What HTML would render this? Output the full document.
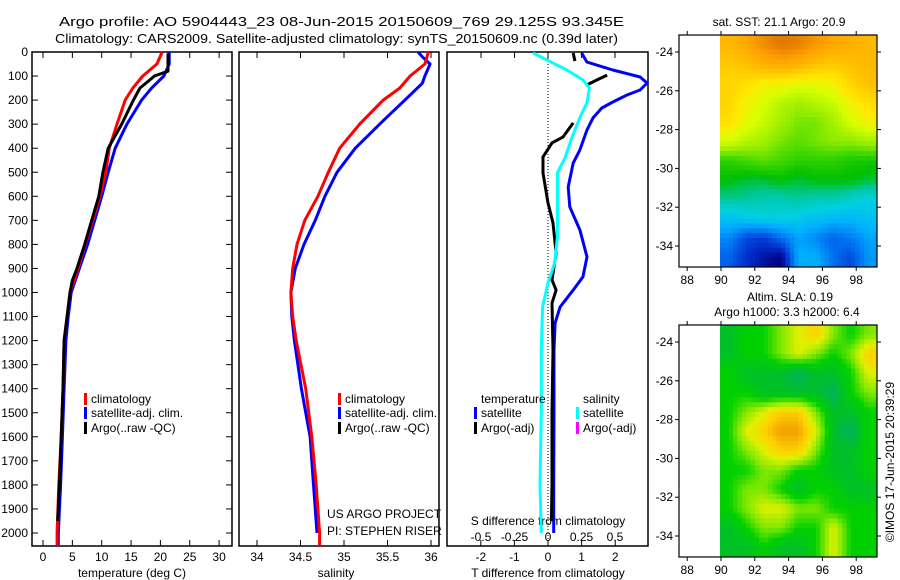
<!DOCTYPE html>
<html><head><meta charset="utf-8"><style>
html,body{margin:0;padding:0;background:#fff;}
svg{display:block;font-family:"Liberation Sans",sans-serif;}
</style></head><body>
<svg id="fig" width="900" height="580" viewBox="0 0 900 580" xmlns="http://www.w3.org/2000/svg">
<text x="59" y="26" font-size="13" textLength="565" lengthAdjust="spacingAndGlyphs">Argo profile: AO 5904443_23 08-Jun-2015 20150609_769 29.125S 93.345E</text>
<text x="55" y="43" font-size="13" textLength="563" lengthAdjust="spacingAndGlyphs">Climatology: CARS2009. Satellite-adjusted climatology: synTS_20150609.nc (0.39d later)</text>
<g id="plots"></g>
</svg>
<script>
// ---------- data ----------
const depthTicks=[0,100,200,300,400,500,600,700,800,900,1000,1100,1200,1300,1400,1500,1600,1700,1800,1900,2000];
const tempTicks=[0,5,10,15,20,25,30];
const salTicks=[34,34.5,35,35.5,36];
const salTickLabels=["34","34.5","35","35.5","36"];
const tdiffTicks=[-2,-1,0,1,2];
const sdiffTicks=[-0.5,-0.25,0,0.25,0.5];
const sdiffTickLabels=["-0.5","-0.25","0","0.25","0.5"];

const climDepth=[0,50,100,150,200,300,400,500,600,700,800,900,1000,1100,1200,1400,1600,1800,2000,2050];
const climTemp=[20.3,19.4,17.0,15.3,14.0,12.6,11.3,10.7,9.7,8.5,7.2,6.0,4.6,4.1,3.6,3.4,3.1,2.7,2.4,2.4];
const satTemp=[21.5,21.5,20.6,18.5,16.8,14.3,12.3,11.1,10.0,8.8,7.6,6.2,4.8,4.3,3.9,3.6,3.3,3.0,2.6,2.6];
const argoDepth=[5,80,100,150,200,300,400,500,600,700,800,900,950,1000,1100,1200,1400,1600,1800,1950];
const argoTemp=[21.3,21.3,19.0,16.5,15.4,13.4,11.1,10.2,9.5,8.3,7.1,5.8,5.0,4.6,4.1,3.6,3.4,3.1,2.8,2.5];

const climSal=[35.97,35.93,35.76,35.64,35.45,35.18,34.95,34.82,34.70,34.55,34.46,34.41,34.39,34.41,34.45,34.56,34.63,34.68,34.72,34.72];
const satSalDepth=[0,20,50,100,130,200,300,400,500,600,700,800,900,1000,1100,1200,1300,1400,1600,1800,2000];
const satSal=[35.85,35.9,35.99,35.93,35.9,35.7,35.41,35.13,34.92,34.78,34.67,34.54,34.44,34.39,34.40,34.43,34.47,34.51,34.61,34.65,34.69];

const tdDepth=[4,42,75,104,129,158,179,208,233,274,324,407,462,561,644,740,852,935,990,1060,1127,1239,1500,1800,2000];
const tdSat=[1.0,1.16,1.93,2.74,2.95,2.74,2.35,1.93,1.6,1.34,1.16,0.95,0.75,0.6,0.65,0.95,1.16,1.04,0.75,0.36,0.21,0.18,0.18,0.17,0.17];
const tdArgoDepth=[4,38,null,96,116,137,null,171,null,233,null,295,353,378,436,503,628,711,836,948,990,1044,1239,1500,1800,1950];
const tdArgo=[0.75,0.8,null,1.76,1.46,1.16,null,0.75,null,0.95,null,0.75,0.45,0.12,-0.15,-0.15,0,0.15,0.24,0.12,0.24,0.12,0.15,0.12,0.12,0.1];
const sdDepth=[4,33,75,116,150,212,270,353,436,503,628,769,877,960,1060,1239,1500,1800,2000];
const sdSat=[-0.11,-0.01,0.14,0.26,0.31,0.29,0.24,0.18,0.13,0.07,0.07,0.07,0.05,0,-0.04,-0.05,-0.05,-0.06,-0.05];

const mapLonTicks=[88,90,92,94,96,98];
const mapLatTicks=[-24,-26,-28,-30,-32,-34];
const sstRows=[
[21.6,21.8,22.1,22.3,22.2,22.0,21.8,21.7,21.6],
[21.4,21.5,21.7,21.8,21.7,21.5,21.4,21.5,21.6],
[21.3,21.2,21.0,21.0,20.9,20.9,21.0,21.3,21.5],
[21.3,21.0,20.8,20.6,20.5,20.6,20.7,21.0,21.2],
[21.2,20.9,20.7,20.5,20.3,20.3,20.5,20.8,21.0],
[20.8,20.6,20.5,20.3,20.2,20.3,20.4,20.4,20.5],
[20.0,20.1,20.2,20.1,20.0,20.0,20.0,19.9,19.9],
[19.8,19.7,19.7,19.8,19.7,19.8,19.8,19.8,19.7],
[19.5,19.5,19.4,19.4,19.5,19.4,19.4,19.3,19.2],
[19.0,19.1,19.2,19.2,19.1,19.0,18.9,18.9,19.0],
[18.5,18.0,17.9,18.3,18.7,18.5,18.2,18.4,18.7],
[18.2,17.8,17.5,17.3,18.8,18.8,18.3,18.0,18.6]];
const slaRows=[
[1,2,2,3,4,5,3,2,3],
[1,2,2,3,4,3,2,3,5],
[2,1,1,1,0,1,1,2,4],
[2,2,1,1,1,1,0,2,3],
[2,3,4,5,5,3,1,1,2],
[2,4,5,6,6,4,1,0,2],
[2,3,4,5,5,3,1,1,2],
[2,2,3,3,2,2,1,1,2],
[2,3,3,2,1,2,2,1,1],
[2,3,4,4,3,3,2,2,2],
[1,2,3,3,2,2,4,2,2],
[1,1,2,1,1,2,4,2,2]];

// ---------- scales ----------
const NS="http://www.w3.org/2000/svg";
const root=document.getElementById('plots');
const yD=d=>52+d*0.2405;
const xT=t=>43+t*5.87;
const xS=s=>257+(s-34)*87;
const xTD=v=>548+v*33.6;
const xSD=v=>548+v*134;
function mk(tag,attrs,parent){const e=document.createElementNS(NS,tag);for(const k in attrs)e.setAttribute(k,attrs[k]);(parent||root).appendChild(e);return e;}
function txt(x,y,s,anchor,size){const e=mk('text',{x:x,y:y,'font-size':size||12,'text-anchor':anchor||'start'});e.textContent=s;return e;}
function pathFrom(ds,vs,xf){let d='',pen=false;for(let i=0;i<ds.length;i++){if(ds[i]===null||vs[i]===null){pen=false;continue;}d+=(pen?'L':'M')+xf(vs[i]).toFixed(1)+','+yD(ds[i]).toFixed(1);pen=true;}return d;}

const panels=[[32,232],[239,439],[447,648]];
const pTop=52,pBot=546;
panels.forEach((p,i)=>{
  const r=mk('rect',{x:p[0],y:pTop,width:p[1]-p[0],height:pBot-pTop,fill:'none',stroke:'#000','stroke-width':1.5});
  
  
});
depthTicks.forEach(d=>{
  const y=yD(d);
  mk('line',{x1:32,x2:38,y1:y,y2:y,stroke:'#000'});
  mk('line',{x1:226,x2:232,y1:y,y2:y,stroke:'#000'});
  const t=txt(28,y+4,String(d),'end',12);
  
  
});
tempTicks.forEach(v=>{const x=xT(v);mk('line',{x1:x,x2:x,y1:pBot,y2:pBot-6,stroke:'#000'});mk('line',{x1:x,x2:x,y1:pTop,y2:pTop+6,stroke:'#000'});
  const t=txt(x,561,String(v),'middle',12);});
let e=txt(132,577,'temperature (deg C)','middle',12);
salTicks.forEach((v,i)=>{const x=xS(v);mk('line',{x1:x,x2:x,y1:pBot,y2:pBot-6,stroke:'#000'});mk('line',{x1:x,x2:x,y1:pTop,y2:pTop+6,stroke:'#000'});
  const t=txt(x,561,salTickLabels[i],'middle',12);});
e=txt(336,577,'salinity','middle',12);
tdiffTicks.forEach(v=>{const x=xTD(v);mk('line',{x1:x,x2:x,y1:pBot,y2:pBot-6,stroke:'#000'});
  const t=txt(x,561,String(v),'middle',12);});
e=txt(548,577,'T difference from climatology','middle',12);
sdiffTicks.forEach((v,i)=>{const x=xSD(v);mk('line',{x1:x,x2:x,y1:pTop,y2:pTop+6,stroke:'#000'});
  const t=txt(x,541,sdiffTickLabels[i],'middle',12);});
e=txt(548,525,'S difference from climatology','middle',12);
e=mk('line',{x1:548,x2:548,y1:pTop,y2:pBot,stroke:'#000','stroke-dasharray':'1,2'});


function series(ds,vs,xf,col,name){const p=mk('path',{d:pathFrom(ds,vs,xf),fill:'none',stroke:col,'stroke-width':3,'stroke-linejoin':'round'});
  }
series(climDepth,satTemp,xT,'#0000ff','temp-satellite-adj-line');
series(climDepth,climTemp,xT,'#ff0000','temp-climatology-line');
series(argoDepth,argoTemp,xT,'#000','temp-argo-line');
series(satSalDepth,satSal,xS,'#0000ff','salinity-satellite-adj-line');
series(climDepth,climSal,xS,'#ff0000','salinity-climatology-line');
series(tdDepth,tdSat,xTD,'#0000ff','t-diff-satellite-line');
series(tdArgoDepth,tdArgo,xTD,'#000','t-diff-argo-line');
series(sdDepth,sdSat,xSD,'#00ffff','s-diff-satellite-line');

function legItem(x,y,col,label,name){const r=mk('rect',{x:x,y:y-10,width:3,height:12,fill:col});
  
  const t=txt(x+7,y,label,'start',12);}
legItem(84,403,'#ff0000','climatology','legend-climatology');
legItem(84,417,'#0000ff','satellite-adj. clim.','legend-satellite-adj');
legItem(84,432,'#000','Argo(..raw -QC)','legend-argo');
legItem(338,403,'#ff0000','climatology','legend-sal-climatology');
legItem(338,417,'#0000ff','satellite-adj. clim.','legend-sal-satellite-adj');
legItem(338,432,'#000','Argo(..raw -QC)','legend-sal-argo');
e=txt(481,403,'temperature','start',12);
e=txt(583,403,'salinity','start',12);
legItem(474,417,'#0000ff','satellite','legend-tdiff-satellite');
legItem(474,432,'#000','Argo(-adj)','legend-tdiff-argo');
legItem(576,417,'#00ffff','satellite','legend-sdiff-satellite');
legItem(576,432,'#ff00ff','Argo(-adj)','legend-sdiff-argo');
e=txt(327,518,'US ARGO PROJECT','start',12);
e=txt(327,535,'PI: STEPHEN RISER','start',12);

// ---------- maps ----------
function lerpCol(stops,v){if(v<=stops[0][0])return stops[0][1];for(let i=1;i<stops.length;i++){if(v<=stops[i][0]){const a=stops[i-1],b=stops[i],f=(v-a[0])/(b[0]-a[0]);
  const ca=a[1],cb=b[1];return [0,1,2].map(k=>Math.round(ca[k]+(cb[k]-ca[k])*f));}}return stops[stops.length-1][1];}
function fix(c){return 'rgb('+c.join(',')+')';}
const sstStops=[[17.3,[0,0,128]],[17.8,[0,48,208]],[18.3,[0,112,240]],[18.8,[0,176,255]],[19.2,[0,208,224]],[19.5,[0,200,160]],[19.8,[0,192,0]],[20.1,[64,216,0]],[20.4,[144,236,0]],[20.8,[216,255,0]],[21.1,[255,232,0]],[21.5,[255,192,0]],[21.9,[255,160,0]],[22.3,[224,120,0]]];
const slaStops=[[0,[0,176,96]],[1,[0,192,40]],[2,[0,208,0]],[3,[128,232,0]],[4,[224,240,0]],[5,[255,208,0]],[6,[240,160,0]]];
const lonX=l=>721+(l-90)*16.9;
function sample(rows,fr,fc){
  const nr=rows.length,nc=rows[0].length;
  const r=Math.max(0,Math.min(nr-1,fr-0.5)),c=Math.max(0,Math.min(nc-1,fc-0.5));
  const r0=Math.floor(r),c0=Math.floor(c),r1=Math.min(nr-1,r0+1),c1=Math.min(nc-1,c0+1),a=r-r0,b=c-c0;
  return rows[r0][c0]*(1-a)*(1-b)+rows[r0][c1]*(1-a)*b+rows[r1][c0]*a*(1-b)+rows[r1][c1]*a*b;
}
function drawMap(y0,y1,latY,rows,stops,name){
  const nr=rows.length,nc=rows[0].length,x0=720,x1=877,sub=4;
  const cw=(x1-x0)/(nc*sub),ch=(y1-y0)/(nr*sub);
  const g=mk('g',{});
  
  for(let ri=0;ri<nr*sub;ri++)for(let ci=0;ci<nc*sub;ci++){
    const v=sample(rows,(ri+0.5)/sub,(ci+0.5)/sub);
    mk('rect',{x:(x0+ci*cw).toFixed(2),y:(y0+ri*ch).toFixed(2),width:(cw+0.5).toFixed(2),height:(ch+0.5).toFixed(2),fill:fix(lerpCol(stops,v))},g);
  }
  const f=mk('rect',{x:679,y:y0,width:198,height:y1-y0,fill:'none',stroke:'#000','stroke-width':1.2});
  
  mapLonTicks.forEach(l=>{const x=lonX(l);mk('line',{x1:x,x2:x,y1:y1,y2:y1+4,stroke:'#000'});mk('line',{x1:x,x2:x,y1:y0,y2:y0-4,stroke:'#000'});
    const t=txt(x,y1+17,String(l),'middle',12);});
  mapLatTicks.forEach(la=>{const y=latY(la);mk('line',{x1:675,x2:679,y1:y,y2:y,stroke:'#000'});mk('line',{x1:877,x2:881,y1:y,y2:y,stroke:'#000'});
    const t=txt(673,y+4,String(la),'end',12);});
}
drawMap(35,267,la=>52+(-24-la)*19.4,sstRows,sstStops,'sst-map');
drawMap(325,557,la=>342+(-24-la)*19.4,slaRows,slaStops,'sla-map');
e=txt(779,26,'sat. SST: 21.1 Argo: 20.9','middle',12);
e=txt(790,301,'Altim. SLA: 0.19','middle',12);
e=txt(787,316,'Argo h1000: 3.3 h2000: 6.4','middle',12);
e=mk('text',{x:0,y:0,'font-size':12,'text-anchor':'middle',transform:'translate(894,462) rotate(-90)'});e.textContent='©IMOS 17-Jun-2015 20:39:29';

</script>
</body></html>
